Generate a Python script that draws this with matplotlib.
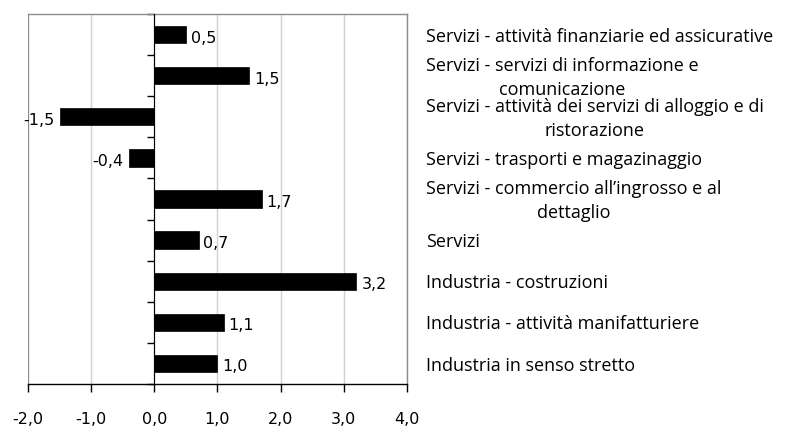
import matplotlib
matplotlib.use("Agg")
import matplotlib.pyplot as plt
import matplotlib.transforms as mtransforms

categories = [
    "Industria in senso stretto",
    "Industria - attività manifatturiere",
    "Industria - costruzioni",
    "Servizi",
    "Servizi - commercio all’ingrosso e al\ndettaglio",
    "Servizi - trasporti e magazinaggio",
    "Servizi - attività dei servizi di alloggio e di\nristorazione",
    "Servizi - servizi di informazione e\ncomunicazione",
    "Servizi - attività finanziarie ed assicurative",
]
values = [1.0, 1.1, 3.2, 0.7, 1.7, -0.4, -1.5, 1.5, 0.5]
value_labels = ["1,0", "1,1", "3,2", "0,7", "1,7", "-0,4", "-1,5", "1,5", "0,5"]
x_ticks = [-2, -1, 0, 1, 2, 3, 4]
x_tick_labels = ["-2,0", "-1,0", "0,0", "1,0", "2,0", "3,0", "4,0"]

fig = plt.figure(figsize=(8.04, 4.26), dpi=100)
ax = fig.add_axes([28 / 804, 1 - 384 / 426, (407 - 28) / 804, (384 - 14) / 426])

ypos = list(range(len(categories)))
ax.barh(ypos, values, height=0.42, color="black", edgecolor="black", linewidth=0.5, zorder=3)

ax.set_xlim(-2, 4)
ax.set_ylim(-0.5, len(categories) - 0.5)

ax.set_xticks(x_ticks)
ax.set_xticklabels(x_tick_labels, fontsize=11.5, family="DejaVu Sans")
ax.tick_params(axis="x", direction="out", length=6, width=1, pad=14, colors="black")
ax.xaxis.grid(True, color="#d0d0d0", linewidth=1, zorder=0)
ax.set_axisbelow(True)

# category axis at zero
ax.spines["left"].set_position(("data", 0))
ax.spines["left"].set_color("black")
ax.spines["left"].set_zorder(4)
ax.set_yticks([i - 0.5 for i in range(len(categories) + 1)])
ax.set_yticklabels([])
ax.tick_params(axis="y", direction="out", length=5, width=1, colors="black")

ax.spines["bottom"].set_color("black")
ax.spines["bottom"].set_linewidth(1)
for s in ("top", "right"):
    ax.spines[s].set_color("#8c8c8c")
    ax.spines[s].set_linewidth(1)
ax.axvline(-2, color="#8c8c8c", linewidth=1.5, zorder=1)

# value labels
for y, v, lab in zip(ypos, values, value_labels):
    if v >= 0:
        ax.annotate(lab, (v, y), xytext=(3.5, -2.5), textcoords="offset points",
                    ha="left", va="center", fontsize=11.5, family="DejaVu Sans", zorder=5)
    else:
        ax.annotate(lab, (v, y), xytext=(-4, -2.5), textcoords="offset points",
                    ha="right", va="center", fontsize=11.5, family="DejaVu Sans", zorder=5)

# category labels on the right
trans = mtransforms.blended_transform_factory(ax.transAxes, ax.transData)
for y, cat in zip(ypos, categories):
    ax.annotate(cat, (1.05, y), xycoords=trans, xytext=(0, -1.5), textcoords="offset points",
                ha="left", va="center", multialignment="center", fontsize=13,
                family="Open Sans", linespacing=1.45, annotation_clip=False)

fig.savefig("out.png", dpi=100)
